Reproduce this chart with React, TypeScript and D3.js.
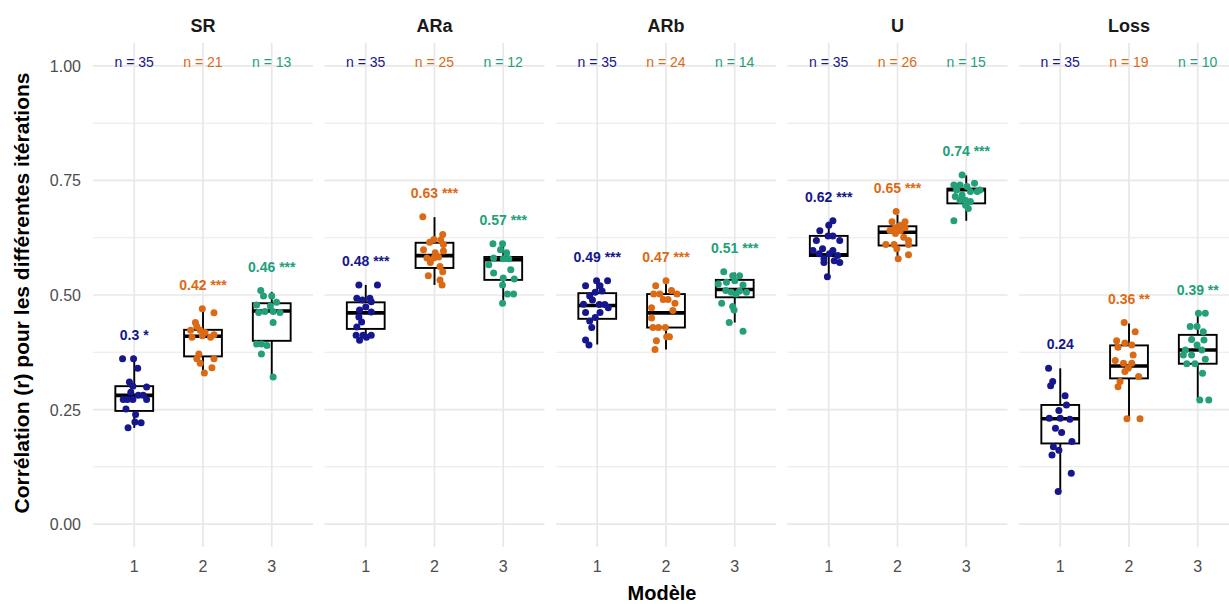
import React from "react";
import * as d3 from "d3";

// ---------- data ----------
const panels = ["SR", "ARa", "ARb", "U", "Loss"];
const groups = ["1", "2", "3"];
const groupColors = ["#16168e", "#dc6a14", "#23a07a"];

const nCounts = [
  [35, 21, 13],
  [35, 25, 12],
  [35, 24, 14],
  [35, 26, 15],
  [35, 19, 10],
];

const corrLabels = [
  ["0.3 *", "0.42 ***", "0.46 ***"],
  ["0.48 ***", "0.63 ***", "0.57 ***"],
  ["0.49 ***", "0.47 ***", "0.51 ***"],
  ["0.62 ***", "0.65 ***", "0.74 ***"],
  ["0.24", "0.36 **", "0.39 **"],
];

// box stats per panel / group: [whiskerLow, q1, median, q3, whiskerHigh]
const boxStats = [
  [[0.21, 0.247, 0.281, 0.301, 0.361], [0.33, 0.366, 0.41, 0.424, 0.47], [0.321, 0.4, 0.465, 0.482, 0.507]],
  [[0.404, 0.426, 0.461, 0.484, 0.522], [0.522, 0.559, 0.586, 0.614, 0.67], [0.482, 0.533, 0.577, 0.583, 0.612]],
  [[0.392, 0.448, 0.477, 0.504, 0.531], [0.381, 0.429, 0.461, 0.502, 0.531], [0.44, 0.495, 0.512, 0.533, 0.549]],
  [[0.545, 0.585, 0.588, 0.629, 0.66], [0.58, 0.608, 0.637, 0.65, 0.675], [0.662, 0.7, 0.73, 0.732, 0.761]],
  [[0.071, 0.176, 0.23, 0.26, 0.34], [0.23, 0.318, 0.345, 0.39, 0.438], [0.271, 0.35, 0.38, 0.413, 0.46]],
];

// jittered points: [horizontal jitter (category units), correlation]
const pointsSR1 = [[-0.17,0.361],[-0.01,0.361],[0.05,0.34],[-0.07,0.31],[-0.02,0.301],[0.18,0.299],[-0.05,0.288],[0.06,0.281],[0.13,0.281],[-0.16,0.272],[-0.1,0.272],[0.18,0.272],[-0.02,0.272],[-0.12,0.251],[0.02,0.239],[0.01,0.223],[0.1,0.221],[-0.09,0.21]];
const pointsSR2 = [[-0.01,0.47],[0.16,0.461],[-0.11,0.44],[-0.09,0.431],[-0.18,0.423],[-0.04,0.423],[0.03,0.418],[0.16,0.413],[-0.01,0.411],[-0.16,0.408],[0.11,0.408],[-0.06,0.371],[-0.09,0.361],[0.16,0.361],[-0.04,0.351],[0.13,0.341],[0.02,0.33]];
const pointsSR3 = [[-0.16,0.51],[0,0.498],[-0.12,0.498],[0.07,0.484],[-0.22,0.478],[-0.02,0.476],[-0.1,0.464],[0.02,0.464],[0.12,0.462],[-0.19,0.462],[0.02,0.44],[-0.15,0.393],[-0.22,0.393],[-0.07,0.39],[-0.15,0.371],[0.02,0.321]];
const pointsARa1 = [[-0.1,0.522],[0.17,0.522],[-0.13,0.493],[-0.05,0.489],[0.06,0.493],[0.08,0.485],[0,0.474],[-0.09,0.467],[0.08,0.463],[-0.1,0.452],[-0.06,0.441],[-0.13,0.43],[-0.14,0.412],[-0.04,0.412],[0.08,0.412],[-0.09,0.401],[0.01,0.408]];
const pointsARa2 = [[-0.17,0.671],[0.12,0.632],[-0.01,0.621],[0.09,0.62],[-0.07,0.615],[0.13,0.61],[-0.16,0.599],[0.01,0.592],[0.13,0.596],[-0.11,0.581],[-0.01,0.581],[0.06,0.583],[-0.06,0.571],[0.08,0.562],[0.12,0.551],[-0.09,0.542],[0.08,0.533],[0.11,0.522]];
const pointsARa3 = [[-0.15,0.612],[-0.01,0.612],[-0.04,0.599],[0.05,0.592],[-0.14,0.581],[0,0.579],[0.08,0.579],[-0.21,0.566],[0.11,0.555],[-0.14,0.548],[0,0.537],[0.16,0.535],[-0.01,0.522],[0.06,0.502],[0.15,0.502],[-0.01,0.482]];
const pointsARb1 = [[-0.01,0.531],[0.15,0.531],[-0.17,0.52],[0.04,0.52],[0.07,0.509],[-0.03,0.506],[-0.11,0.498],[-0.07,0.489],[-0.2,0.48],[0.03,0.479],[0.11,0.479],[0.16,0.472],[-0.17,0.462],[0.04,0.462],[-0.03,0.451],[-0.11,0.443],[-0.08,0.429],[-0.17,0.402],[-0.12,0.391]];
const pointsARb2 = [[0,0.531],[-0.15,0.52],[0.08,0.51],[-0.18,0.502],[-0.09,0.502],[0.16,0.502],[-0.04,0.49],[0.03,0.49],[0.13,0.482],[-0.21,0.472],[0.1,0.466],[-0.21,0.45],[-0.19,0.429],[-0.11,0.429],[-0.01,0.429],[0.01,0.409],[0.05,0.409],[-0.14,0.4],[-0.16,0.381]];
const pointsARb3 = [[-0.16,0.551],[0.07,0.542],[-0.03,0.542],[-0.24,0.524],[-0.12,0.528],[0,0.531],[0.12,0.522],[-0.13,0.51],[0.07,0.509],[0.17,0.506],[-0.05,0.506],[0.02,0.502],[-0.19,0.482],[-0.03,0.475],[-0.01,0.467],[-0.08,0.44],[0.12,0.421]];
const pointsU1 = [[0.06,0.662],[0,0.652],[-0.13,0.64],[-0.01,0.629],[0.06,0.629],[-0.18,0.619],[0.16,0.619],[-0.09,0.601],[-0.23,0.597],[0.06,0.597],[-0.14,0.59],[0.01,0.59],[0.13,0.586],[-0.07,0.579],[0.08,0.575],[0.16,0.571],[-0.07,0.571],[-0.02,0.54]];
const pointsU2 = [[-0.02,0.682],[-0.08,0.66],[0.11,0.66],[0.04,0.652],[-0.03,0.647],[0.11,0.647],[-0.11,0.641],[0.04,0.64],[-0.03,0.634],[0.09,0.626],[0.16,0.619],[-0.17,0.61],[-0.05,0.61],[0.16,0.61],[-0.01,0.601],[0.16,0.588],[0.01,0.579]];
const pointsU3 = [[-0.06,0.762],[-0.18,0.74],[-0.09,0.74],[0.12,0.744],[0.01,0.737],[0.2,0.729],[-0.14,0.729],[0.06,0.726],[0.16,0.726],[-0.06,0.718],[-0.16,0.715],[-0.09,0.707],[-0.01,0.707],[0.06,0.704],[-0.01,0.696],[0.03,0.689],[-0.18,0.662]];
const pointsLoss1 = [[-0.17,0.34],[-0.11,0.311],[-0.14,0.302],[0.07,0.28],[0.09,0.26],[-0.02,0.248],[-0.16,0.231],[0,0.231],[0.14,0.229],[-0.07,0.209],[0.02,0.2],[0.17,0.18],[-0.1,0.169],[-0.02,0.161],[-0.12,0.151],[0.16,0.111],[-0.03,0.071]];
const pointsLoss2 = [[-0.07,0.44],[0.09,0.42],[-0.18,0.4],[-0.06,0.395],[0.04,0.391],[-0.16,0.386],[0.06,0.369],[-0.2,0.357],[-0.08,0.351],[0.04,0.351],[-0.01,0.34],[-0.06,0.333],[0.14,0.322],[-0.13,0.311],[-0.16,0.3],[-0.03,0.23],[0.16,0.23]];
const pointsLoss3 = [[0.01,0.46],[0.11,0.46],[-0.11,0.431],[-0.01,0.431],[0.08,0.42],[-0.09,0.403],[0.09,0.402],[-0.01,0.391],[-0.18,0.38],[0.06,0.38],[-0.09,0.369],[-0.21,0.369],[0.11,0.36],[-0.16,0.35],[-0.04,0.35],[0.07,0.329],[0.03,0.271],[0.16,0.271]];

const points = [
  [pointsSR1, pointsSR2, pointsSR3],
  [pointsARa1, pointsARa2, pointsARa3],
  [pointsARb1, pointsARb2, pointsARb3],
  [pointsU1, pointsU2, pointsU3],
  [pointsLoss1, pointsLoss2, pointsLoss3],
];

const yTicks = [0, 0.25, 0.5, 0.75, 1.0];
const yMinor = [0.125, 0.375, 0.625, 0.875];
const xTitle = "Modèle";
const yTitle = "Corrélation (r) pour les différentes itérations";

// ---------- layout ----------
const W = 1229;
const H = 604;
const FONT = "'Liberation Sans', Arial, Helvetica, sans-serif";
const panelTop = 43;
const panelBottom = 547;

export default function App() {
  const y = d3.scaleLinear().domain([-0.05, 1.05]).range([panelBottom, panelTop]);
  const panelScale = d3
    .scaleBand<string>()
    .domain(panels)
    .range([93, 1239])
    .paddingInner(0.0497)
    .paddingOuter(0);
  const pw = panelScale.bandwidth();
  const gridColor = "#e8e8e8";
  const boxHalf = 0.275; // category units

  return (
    <svg
      width={W}
      height={H}
      style={{ position: "absolute", left: 0, top: 0, background: "#fff" }}
      fontFamily={FONT}
    >
      <rect x={0} y={0} width={W} height={H} fill="#fff" />
      {panels.map((p, pi) => {
        const left = panelScale(p) as number;
        const x = d3.scalePoint<string>().domain(groups).range([left, left + pw]).padding(0.6);
        const step = x.step();
        return (
          <g key={p}>
            {yMinor.map((t) => (
              <line key={"m" + t} x1={left} x2={left + pw} y1={y(t)} y2={y(t)} stroke={gridColor} strokeWidth={1.1} />
            ))}
            {yTicks.map((t) => (
              <line key={"M" + t} x1={left} x2={left + pw} y1={y(t)} y2={y(t)} stroke={gridColor} strokeWidth={1.7} />
            ))}
            {groups.map((g) => (
              <line key={"v" + g} x1={x(g)} x2={x(g)} y1={panelTop} y2={panelBottom} stroke={gridColor} strokeWidth={1.7} />
            ))}
            <text x={left + pw / 2} y={32} textAnchor="middle" fontWeight="bold" fontSize={18} fill="#1a1a1a">
              {p}
            </text>
            {groups.map((g, gi) => {
              const cx = x(g) as number;
              const [lo, q1, med, q3, hi] = boxStats[pi][gi];
              const bw = boxHalf * step;
              const pts = points[pi][gi];
              const maxV = d3.max(pts, (d) => d[1]) as number;
              const col = groupColors[gi];
              return (
                <g key={g}>
                  <line x1={cx} x2={cx} y1={y(hi)} y2={y(q3)} stroke="#000" strokeWidth={1.9} />
                  <line x1={cx} x2={cx} y1={y(q1)} y2={y(lo)} stroke="#000" strokeWidth={1.9} />
                  <rect x={cx - bw} y={y(q3)} width={2 * bw} height={y(q1) - y(q3)} fill="#fff" stroke="#000" strokeWidth={1.9} />
                  <line x1={cx - bw} x2={cx + bw} y1={y(med)} y2={y(med)} stroke="#000" strokeWidth={3.6} />
                  {pts.map((d, k) => (
                    <circle key={k} cx={cx + d[0] * step} cy={y(d[1])} r={3.5} fill={col} />
                  ))}
                  <text x={cx} y={y(maxV + 0.052) + 5} textAnchor="middle" fontWeight="bold" fontSize={14} fill={col}>
                    {corrLabels[pi][gi]}
                  </text>
                  <text x={cx} y={y(1.0) + 1} textAnchor="middle" fontSize={14} fill={col}>
                    {"n = " + nCounts[pi][gi]}
                  </text>
                  <text x={cx} y={572} textAnchor="middle" fontSize={16} fill="#4d4d4d">
                    {g}
                  </text>
                </g>
              );
            })}
          </g>
        );
      })}
      {yTicks.map((t) => (
        <text key={t} x={81} y={y(t) + 6} textAnchor="end" fontSize={16} fill="#4d4d4d">
          {d3.format(".2f")(t)}
        </text>
      ))}
      <text x={662} y={600} textAnchor="middle" fontWeight="bold" fontSize={20} fill="#000">
        {xTitle}
      </text>
      <text
        transform={`translate(29, ${(panelTop + panelBottom) / 2 - 2}) rotate(-90)`}
        textAnchor="middle"
        fontWeight="bold"
        fontSize={21}
        fill="#000"
      >
        {yTitle}
      </text>
    </svg>
  );
}
